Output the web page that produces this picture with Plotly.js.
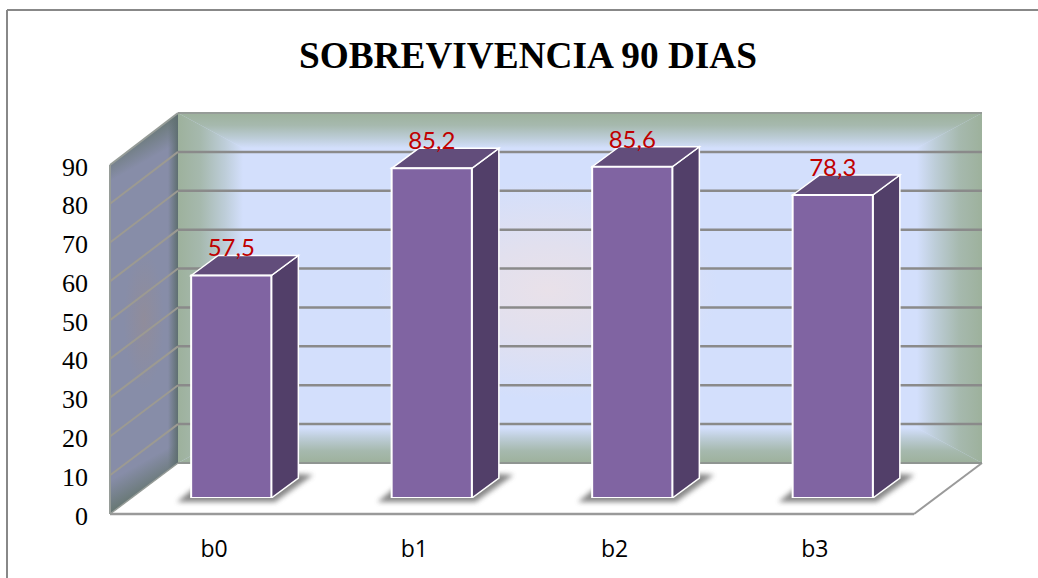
<!DOCTYPE html>
<html>
<head>
<meta charset="utf-8">
<script src="https://cdn.plot.ly/plotly-3.0.1.min.js"></script>
<style>html,body{margin:0;padding:0;background:#fff;overflow:hidden}#chart{width:1038px;height:578px}</style>
</head>
<body>
<div id="chart"></div>
<script>
const categories = ['b0', 'b1', 'b2', 'b3'];
const values = [57.5, 85.2, 85.6, 78.3];
const valueLabels = ['57,5', '85,2', '85,6', '78,3'];
const yTicks = [0, 10, 20, 30, 40, 50, 60, 70, 80, 90];
const chartTitle = 'SOBREVIVENCIA 90 DIAS';

const W = 1038, H = 578;
const px = x => x / W;
const py = y => 1 - y / H;
const unit = 3.87;
const frontY = v => 514 - v * 349 / 90;
const backY = v => 463 - v * 350 / 90;
const indices = categories.map((_, i) => i);
const depthX = 27 / 200.5, depthY = 20 / unit;
const halfBar = 0.2;

const shadows = indices.map(i => {
  const b = 191 + 200.5 * i;
  const pts = [[-14,502],[4,487],[108,474],[122,475],[84,502]].map(p => (b + p[0]) + ',' + p[1]).join(' ');
  return `<polygon points="${pts}" fill="#555" opacity="0.7" filter="url(#blur)"/>`;
}).join('');

const band = '<stop offset="0" stop-color="#9DB19C"/><stop offset="0.35" stop-color="#A6B9AE"/><stop offset="0.72" stop-color="#BDCDD8"/><stop offset="1" stop-color="#D3DFFC"/>';

const svg = `<svg xmlns="http://www.w3.org/2000/svg" width="${W}" height="${H}" viewBox="0 0 ${W} ${H}">
<defs>
<filter id="blur" x="-30%" y="-30%" width="160%" height="160%"><feGaussianBlur stdDeviation="2.5"/></filter>
<radialGradient id="pink" gradientUnits="userSpaceOnUse" cx="548" cy="290" r="1" gradientTransform="translate(548 290) scale(170 110) translate(-548 -290)">
<stop offset="0" stop-color="#E9E1E9"/><stop offset="0.4" stop-color="#E2E0EE"/><stop offset="1" stop-color="#D3DFFC"/></radialGradient>
<linearGradient id="gl" gradientUnits="userSpaceOnUse" x1="178" y1="0" x2="243" y2="0">${band}</linearGradient>
<linearGradient id="gr" gradientUnits="userSpaceOnUse" x1="982" y1="0" x2="917" y2="0">${band}</linearGradient>
<linearGradient id="gt" gradientUnits="userSpaceOnUse" x1="0" y1="113" x2="0" y2="148">${band}</linearGradient>
<linearGradient id="gb" gradientUnits="userSpaceOnUse" x1="0" y1="463" x2="0" y2="428">${band}</linearGradient>
<linearGradient id="wt" gradientUnits="userSpaceOnUse" x1="130" y1="128" x2="148" y2="160"><stop offset="0" stop-color="#5E7164"/><stop offset="1" stop-color="#878DA8"/></linearGradient>
<linearGradient id="wb" gradientUnits="userSpaceOnUse" x1="150" y1="500" x2="132" y2="468"><stop offset="0" stop-color="#5E7164"/><stop offset="1" stop-color="#878DA8"/></linearGradient>
<linearGradient id="wr" gradientUnits="userSpaceOnUse" x1="168" y1="0" x2="178" y2="0"><stop offset="0" stop-color="#5E6E70" stop-opacity="0"/><stop offset="1" stop-color="#5E6E70" stop-opacity="1"/></linearGradient>
<radialGradient id="wm" gradientUnits="userSpaceOnUse" cx="144" cy="320" r="1" gradientTransform="translate(144 320) scale(20 70) translate(-144 -320)"><stop offset="0" stop-color="#968C92" stop-opacity="0.6"/><stop offset="1" stop-color="#968C92" stop-opacity="0"/></radialGradient>
</defs>
<rect x="178" y="113" width="804" height="350" fill="url(#pink)"/>
<polygon points="178,113 243,148 243,428 178,463" fill="url(#gl)"/>
<polygon points="982,113 917,148 917,428 982,463" fill="url(#gr)"/>
<polygon points="178,113 982,113 917,148 243,148" fill="url(#gt)"/>
<polygon points="178,463 982,463 917,428 243,428" fill="url(#gb)"/>
<polygon points="110,165 178,113 178,463 110,514" fill="#878DA8"/>
<polygon points="110,165 178,113 178,463 110,514" fill="url(#wm)"/>
<polygon points="110,165 178,113 178,150 110,201" fill="url(#wt)"/>
<polygon points="110,514 178,463 178,430 110,481" fill="url(#wb)"/>
<polygon points="168,121 178,113 178,463 168,471" fill="url(#wr)"/>
${shadows}
</svg>`;

const line = (x0, y0, x1, y1, color, width) => ({
  type: 'line', xref: 'paper', yref: 'paper', layer: 'below',
  x0: px(x0), y0: py(y0), x1: px(x1), y1: py(y1),
  line: {color: color, width: width}
});

const shapes = [];
shapes.push(line(7, 10, W, 10, '#888888', 2));
shapes.push(line(7, 10, 7, H, '#888888', 2));
shapes.push(line(178, 113, 982, 113, '#969C98', 2));
shapes.push(line(110, 165, 178, 113, '#969C98', 2));
shapes.push(line(110, 165, 110, 514, '#969C98', 2));
shapes.push(line(110, 514, 914, 514, '#9A9A9A', 2.5));
shapes.push(line(914, 514, 982, 463, '#9A9A9A', 2));
shapes.push(line(178, 463, 982, 463, '#8F9591', 2));
shapes.push(line(110, 514, 178, 463, '#969C98', 1.5));
yTicks.filter(v => v > 0 && v < 90).forEach(v => {
  shapes.push(line(178, backY(v), 982, backY(v), '#8A8A8A', 2.5));
  shapes.push(line(110, frontY(v), 178, backY(v), '#9C9A92', 2));
});
values.forEach((v, i) => {
  const l = i - halfBar, r = i + halfBar;
  shapes.push({
    type: 'path', xref: 'x2', yref: 'y2', layer: 'below',
    path: `M${r},0 L${r + depthX},${depthY} L${r + depthX},${v + depthY} L${r},${v} Z`,
    fillcolor: '#523F69', line: {color: '#FFFFFF', width: 1.5}
  });
  shapes.push({
    type: 'path', xref: 'x2', yref: 'y2', layer: 'below',
    path: `M${l},${v} L${l + depthX},${v + depthY} L${r + depthX},${v + depthY} L${r},${v} Z`,
    fillcolor: '#624D7B', line: {color: '#FFFFFF', width: 1.5}
  });
});

const traces = [
  {
    type: 'scatter', mode: 'markers', x: indices, y: yTicks.slice(0, 4), xaxis: 'x', yaxis: 'y',
    marker: {opacity: 0, size: 1}, hoverinfo: 'skip', showlegend: false
  },
  {
    type: 'bar', x: indices, y: values, xaxis: 'x2', yaxis: 'y2', width: 2 * halfBar,
    marker: {color: '#8064A2', line: {color: '#FFFFFF', width: 2}},
    hoverinfo: 'skip', showlegend: false
  },
  {
    type: 'scatter', mode: 'text', x: indices, y: values.map(v => v + 6.5), xaxis: 'x2', yaxis: 'y2',
    text: valueLabels, textposition: 'middle center', cliponaxis: false,
    textfont: {family: 'Lato', size: 24, color: '#C00000'},
    hoverinfo: 'skip', showlegend: false
  }
];

const yLabels = yTicks.map(v => ({
  xref: 'paper', yref: 'y', x: px(90), y: v, xanchor: 'right', yanchor: 'middle', yshift: -2,
  text: String(v), showarrow: false,
  font: {family: 'Liberation Serif', size: 26, color: '#000000'}
}));

const layout = {
  width: W, height: H,
  margin: {l: 0, r: 0, t: 0, b: 0, pad: 0},
  paper_bgcolor: 'rgba(0,0,0,0)',
  plot_bgcolor: 'rgba(0,0,0,0)',
  showlegend: false,
  title: {
    text: '<b>' + chartTitle + '</b>',
    x: 528 / W, xanchor: 'center', xref: 'paper',
    y: py(54.5), yanchor: 'middle', yref: 'paper',
    font: {family: 'Liberation Serif', size: 37.3, color: '#000000'}
  },
  xaxis: {
    domain: [px(114), px(915)], range: [-0.5, 3.5], type: 'linear', anchor: 'y',
    tickmode: 'array', tickvals: indices, ticktext: categories,
    ticks: 'outside', ticklen: 14, tickcolor: 'rgba(0,0,0,0)', showgrid: false, zeroline: false, showline: false,
    tickfont: {family: 'Open Sans', size: 23, color: '#000000'}
  },
  yaxis: {
    domain: [py(514), py(165)], range: [0, 90], anchor: 'x',
    showticklabels: false, ticks: '', showgrid: false, zeroline: false, showline: false
  },
  xaxis2: {
    domain: [px(131), px(933)], range: [-0.5, 3.5], type: 'linear', anchor: 'y2',
    visible: false, fixedrange: true
  },
  yaxis2: {
    domain: [py(498), py(498 - 100 * unit)], range: [0, 100], anchor: 'x2',
    visible: false, fixedrange: true
  },
  annotations: yLabels,
  shapes: shapes,
  images: [{
    source: 'data:image/svg+xml;charset=utf-8,' + encodeURIComponent(svg),
    xref: 'paper', yref: 'paper', x: 0, y: 1, sizex: 1, sizey: 1,
    xanchor: 'left', yanchor: 'top', sizing: 'stretch', layer: 'below'
  }]
};

Plotly.newPlot('chart', traces, layout, {displayModeBar: false, staticPlot: true});
</script>
</body>
</html>
